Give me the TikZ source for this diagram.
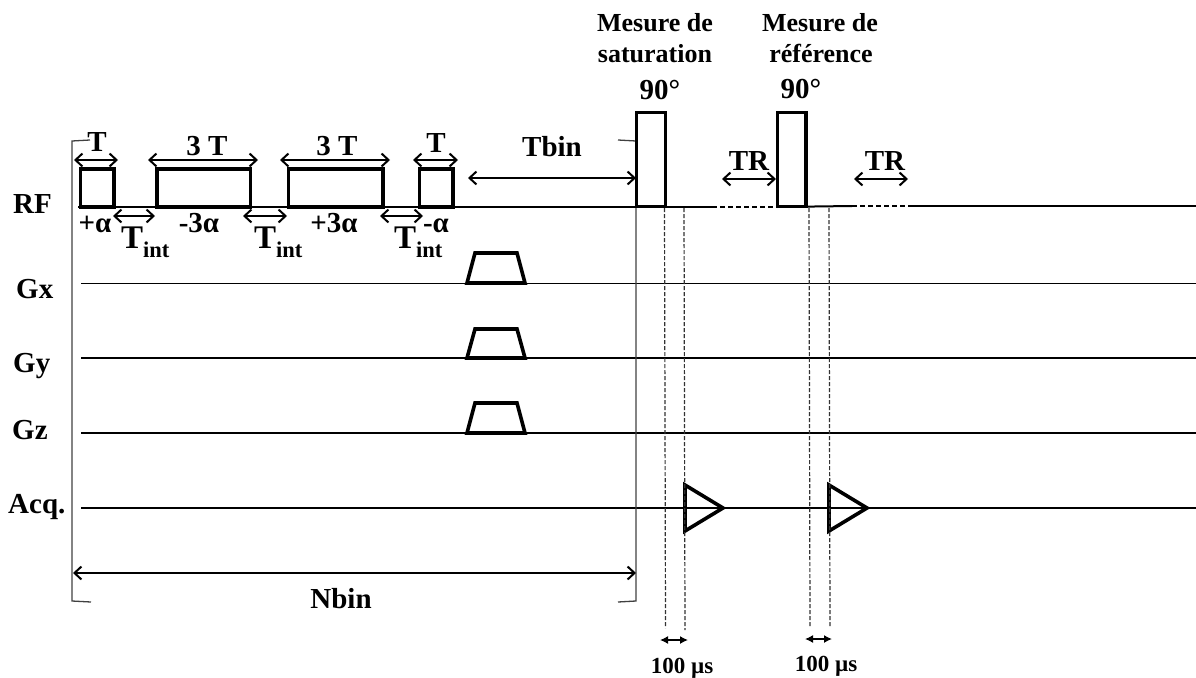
\documentclass[tikz,border=0pt]{standalone}
\usepackage{fontspec}
\setmainfont{Liberation Serif}
\usetikzlibrary{arrows.meta}
\tikzset{
  x=1pt,y=-1pt,
  base/.style={line width=2pt,black},
  thin line/.style={line width=1pt,black},
  bracket/.style={line width=1.3pt,black!75},
  pulse/.style={line width=3.6pt,black,line join=miter},
  dim/.style={line width=2pt,black,{Straight Barb[length=7pt,width=13pt,line width=2pt]}-{Straight Barb[length=7pt,width=13pt,line width=2pt]}},
  smalldim/.style={line width=1.4pt,black,{Latex[length=8pt,width=8pt]}-{Latex[length=8pt,width=8pt]}},
  guide/.style={line width=1.2pt,black!80,dash pattern=on 4pt off 2pt},
  rfdash/.style={line width=1.2pt,black,dash pattern=on 5pt off 3pt},
  lab/.style={inner sep=0pt,anchor=base,font=\fontsize{29}{29}\selectfont\bfseries},
  mes/.style={inner sep=0pt,anchor=base,font=\fontsize{26}{26}\selectfont\bfseries},
  mic/.style={inner sep=0pt,anchor=base,font=\fontsize{23}{23}\selectfont\bfseries},
  tint/.style={inner sep=0pt,anchor=base west,font=\bfseries},
}
\newcommand{\tintlabel}{\fontsize{33}{33}\selectfont T\raisebox{-9pt}{\fontsize{22.5}{22.5}\selectfont int}}
\begin{document}
\begin{tikzpicture}
\useasboundingbox (0,0) rectangle (1196,677);
% free ends
\coordinate (rfA) at (78,207); \coordinate (rfB) at (712,207);
\coordinate (rfC) at (777,207); \coordinate (rfD) at (852,206);
\coordinate (rfE) at (909,206); \coordinate (rfF) at (1196,206);
\coordinate (gxA) at (81,283); \coordinate (gxB) at (1196,283);
\coordinate (gyA) at (81,358); \coordinate (gyB) at (1196,358);
\coordinate (gzA) at (81,433); \coordinate (gzB) at (1196,433);
\coordinate (acA) at (81,508); \coordinate (acB) at (1196,508);
% base lines
\draw[base] (rfA) -- (rfB);
\draw[rfdash] (rfB) -- (rfC);
\draw[base] (rfC) -- (rfD);
\draw[rfdash] (rfD) -- (rfE);
\draw[base] (rfE) -- (rfF);
\draw[thin line] (gxA) -- (gxB);
\draw[base] (gyA) -- (gyB);
\draw[base] (gzA) -- (gzB);
\draw[base] (acA) -- (acB);
% brackets
\coordinate (brA) at (90,140); \coordinate (brB) at (72,141); \coordinate (brC) at (72,601); \coordinate (brD) at (91,602);
\coordinate (brE) at (618,140); \coordinate (brF) at (636,141); \coordinate (brG) at (636,601); \coordinate (brH) at (618,602);
\draw[bracket] (brA) -- (brB) -- (brC) -- (brD);
\draw[bracket] (brE) -- (brF) -- (brG) -- (brH);
% RF pulses
\draw[pulse,fill=white] (80.5,169) rectangle (114,207);
\draw[pulse,fill=white] (157,169) rectangle (250.5,207);
\draw[pulse,fill=white] (288.5,169) rectangle (383,207);
\draw[pulse,fill=white] (419.5,169) rectangle (453,207);
\draw[pulse,fill=white] (636.5,112.5) rectangle (665.5,206.5);
\draw[pulse,fill=white] (777.5,112.5) rectangle (806,206.5);
% gradients
\foreach \yt/\yb in {253/283,329/358,403/433}
  \draw[pulse,fill=white] (467,\yb) -- (475,\yt) -- (517,\yt) -- (525,\yb) -- cycle;
% Acq
\draw[pulse] (685,485) -- (723,508) -- (685,531) -- cycle;
\draw[pulse] (829,485) -- (867,508) -- (829,531) -- cycle;
% guides
\coordinate (gaT) at (664.5,208); \coordinate (gaB) at (665.5,628);
\coordinate (gbT) at (684,208); \coordinate (gbB) at (685,630);
\coordinate (gcT) at (809,208); \coordinate (gcB) at (810,627);
\coordinate (gdT) at (829,208); \coordinate (gdB) at (830,627);
\draw[guide] (gaT) -- (gaB);
\draw[guide] (gbT) -- (gbB);
\draw[guide] (gcT) -- (gcB);
\draw[guide] (gdT) -- (gdB);
% dimension arrows
\foreach \n/\xa/\xb/\yy in {t1/74/118/160,t2/148/258/160,t3/280/390/160,t4/413/458/160,
  i1/113/155/216,i2/243/287/216,i3/380/423/216,tb/468/636/178,tr1/722/776/179,tr2/854/908/179,nb/73/636/573}{
  \coordinate (\n a) at (\xa,\yy); \coordinate (\n b) at (\xb,\yy);
  \draw[dim] (\n a) -- (\n b);
}
\coordinate (ma) at (660,640); \coordinate (mb) at (688,640);
\coordinate (mc) at (805,639); \coordinate (md) at (832,639);
\draw[smalldim] (ma) -- (mb);
\draw[smalldim] (mc) -- (md);
% labels
\node[lab,anchor=base west] (lrf) at (13,213) {RF};
\node[lab,anchor=base west] (lgx) at (16,298) {Gx};
\node[lab,anchor=base west] (lgy) at (13,372) {Gy};
\node[lab,anchor=base west] (lgz) at (12,439) {Gz};
\node[lab,anchor=base west] (lac) at (8,513) {Acq.};
\node[mes] (m1) at (655,32) {Mesure de};
\node[mes] (s1) at (655,63) {saturation};
\node[mes] (m2) at (820,32) {Mesure de};
\node[mes] (s2) at (821,63) {référence};
\node[lab] (d1) at (660,99) {90°};
\node[lab] (d2) at (801,98) {90°};
\node[lab] (tt1) at (97,151) {T};
\node[lab] (tt2) at (207,155) {3 T};
\node[lab] (tt3) at (337,155) {3 T};
\node[lab] (tt4) at (436,152) {T};
\node[lab] (ltb) at (552,156) {Tbin};
\node[lab] (ltr1) at (749,170) {TR};
\node[lab] (ltr2) at (885,170) {TR};
\node[lab] (a1) at (95,232) {+α};
\node[lab] (a2) at (199,232) {-3α};
\node[lab] (a3) at (334,232) {+3α};
\node[lab] (a4) at (436,232) {-α};
\node[tint] (ti1) at (121,248) {\tintlabel};
\node[tint] (ti2) at (254,248) {\tintlabel};
\node[tint] (ti3) at (394,248) {\tintlabel};
\node[lab] (lnb) at (341,608) {Nbin};
\node[mic] (u1) at (682,673) {100 µs};
\node[mic] (u2) at (826,671) {100 µs};
\end{tikzpicture}
\end{document}
